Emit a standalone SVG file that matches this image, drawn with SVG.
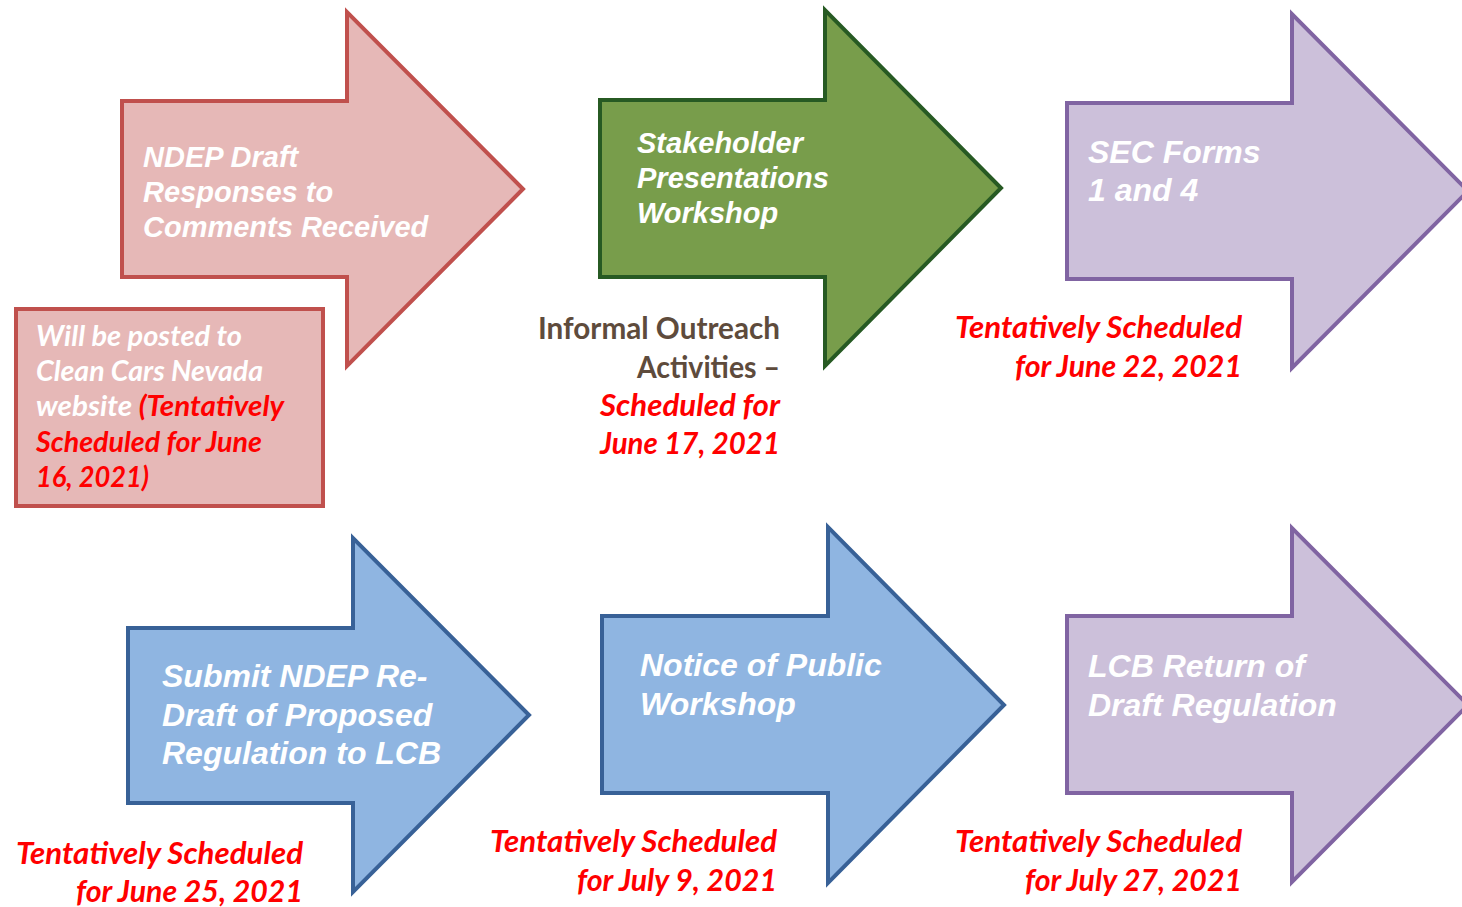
<svg xmlns="http://www.w3.org/2000/svg" width="1462" height="907" viewBox="0 0 1462 907">
<style>
.arrow{stroke-width:4;stroke-linejoin:miter}
.red{fill:#E6B8B7;stroke:#C0504D}
.green{fill:#789D4B;stroke:#275A23}
.purple{fill:#CCC0DA;stroke:#8064A2}
.blue{fill:#8FB5E1;stroke:#386197}
.lbl{font-family:"Liberation Sans",Arial,sans-serif;font-weight:bold;font-style:italic;fill:#FFFFFF}
.cal{font-family:Lato,"Open Sans",sans-serif;font-weight:bold;font-style:italic}
.sched{fill:#FF0000}
.note{fill:#FFFFFF}
.brown{font-family:Lato,"Open Sans",sans-serif;font-weight:bold;fill:#5E4B3C}
</style>
<rect width="1462" height="907" fill="#FFFFFF"/>
<g id="connectors"></g>
<g id="node-ndep-draft">
<path class="arrow red" d="M122,101 H347 V12 L523,189 L347,366 V277 H122 Z"/>
<text class="lbl" font-size="29"><tspan x="143" y="167">NDEP Draft</tspan><tspan x="143" y="202">Responses to</tspan><tspan x="143" y="237">Comments Received</tspan></text>
</g>
<g id="node-posted">
<rect class="arrow red" x="16" y="309" width="307" height="197"/>
<text class="cal note" font-size="28" x="36" y="346" textLength="206" lengthAdjust="spacingAndGlyphs">Will be posted to</text>
<text class="cal note" font-size="28" x="36" y="381" textLength="227" lengthAdjust="spacingAndGlyphs">Clean Cars Nevada</text>
<text class="cal" font-size="28" x="36" y="416" textLength="248" lengthAdjust="spacingAndGlyphs"><tspan class="note">website </tspan><tspan class="sched">(Tentatively</tspan></text>
<text class="cal sched" font-size="28" x="36" y="452" textLength="226" lengthAdjust="spacingAndGlyphs">Scheduled for June</text>
<text class="cal sched" font-size="28" x="36" y="487" textLength="113" lengthAdjust="spacingAndGlyphs">16, 2021)</text>
</g>
<g id="node-stakeholder">
<path class="arrow green" d="M600,100 H825 V10 L1001,188 L825,366 V277 H600 Z"/>
<text class="lbl" font-size="29"><tspan x="637" y="153">Stakeholder</tspan><tspan x="637" y="188">Presentations</tspan><tspan x="637" y="223">Workshop</tspan></text>
</g>
<g id="node-informal" font-size="30" text-anchor="end">
<text class="brown" x="780" y="339" textLength="242" lengthAdjust="spacingAndGlyphs">Informal Outreach</text>
<text class="brown" x="780" y="378" textLength="143" lengthAdjust="spacingAndGlyphs">Activities –</text>
<text class="cal sched" x="780" y="416" textLength="180" lengthAdjust="spacingAndGlyphs">Scheduled for</text>
<text class="cal sched" x="780" y="454" textLength="180" lengthAdjust="spacingAndGlyphs">June 17, 2021</text>
</g>
<g id="node-sec-forms">
<path class="arrow purple" d="M1067,103 H1292 V14 L1468,191 L1292,368 V279 H1067 Z"/>
<text class="lbl" font-size="32"><tspan x="1088" y="163">SEC Forms</tspan><tspan x="1088" y="201">1 and 4</tspan></text>
<text class="cal sched" font-size="30" text-anchor="end" x="1242" y="338" textLength="287" lengthAdjust="spacingAndGlyphs">Tentatively Scheduled</text>
<text class="cal sched" font-size="30" text-anchor="end" x="1242" y="377" textLength="227" lengthAdjust="spacingAndGlyphs">for June 22, 2021</text>
</g>
<g id="node-submit">
<path class="arrow blue" d="M128,628 H353 V538 L529,715 L353,892 V803 H128 Z"/>
<text class="lbl" font-size="32"><tspan x="162" y="687">Submit NDEP Re-</tspan><tspan x="162" y="726">Draft of Proposed</tspan><tspan x="162" y="764">Regulation to LCB</tspan></text>
<text class="cal sched" font-size="30" text-anchor="end" x="303" y="864" textLength="287" lengthAdjust="spacingAndGlyphs">Tentatively Scheduled</text>
<text class="cal sched" font-size="30" text-anchor="end" x="303" y="902" textLength="227" lengthAdjust="spacingAndGlyphs">for June 25, 2021</text>
</g>
<g id="node-notice">
<path class="arrow blue" d="M602,616 H828 V527 L1004,705 L828,883 V793 H602 Z"/>
<text class="lbl" font-size="32"><tspan x="640" y="676">Notice of Public</tspan><tspan x="640" y="715">Workshop</tspan></text>
<text class="cal sched" font-size="30" text-anchor="end" x="777" y="852" textLength="287" lengthAdjust="spacingAndGlyphs">Tentatively Scheduled</text>
<text class="cal sched" font-size="30" text-anchor="end" x="777" y="891" textLength="200" lengthAdjust="spacingAndGlyphs">for July 9, 2021</text>
</g>
<g id="node-lcb-return">
<path class="arrow purple" d="M1067,616 H1292 V528 L1468,705 L1292,882 V793 H1067 Z"/>
<text class="lbl" font-size="32"><tspan x="1088" y="677">LCB Return of</tspan><tspan x="1088" y="716">Draft Regulation</tspan></text>
<text class="cal sched" font-size="30" text-anchor="end" x="1242" y="852" textLength="287" lengthAdjust="spacingAndGlyphs">Tentatively Scheduled</text>
<text class="cal sched" font-size="30" text-anchor="end" x="1242" y="891" textLength="217" lengthAdjust="spacingAndGlyphs">for July 27, 2021</text>
</g>
</svg>
